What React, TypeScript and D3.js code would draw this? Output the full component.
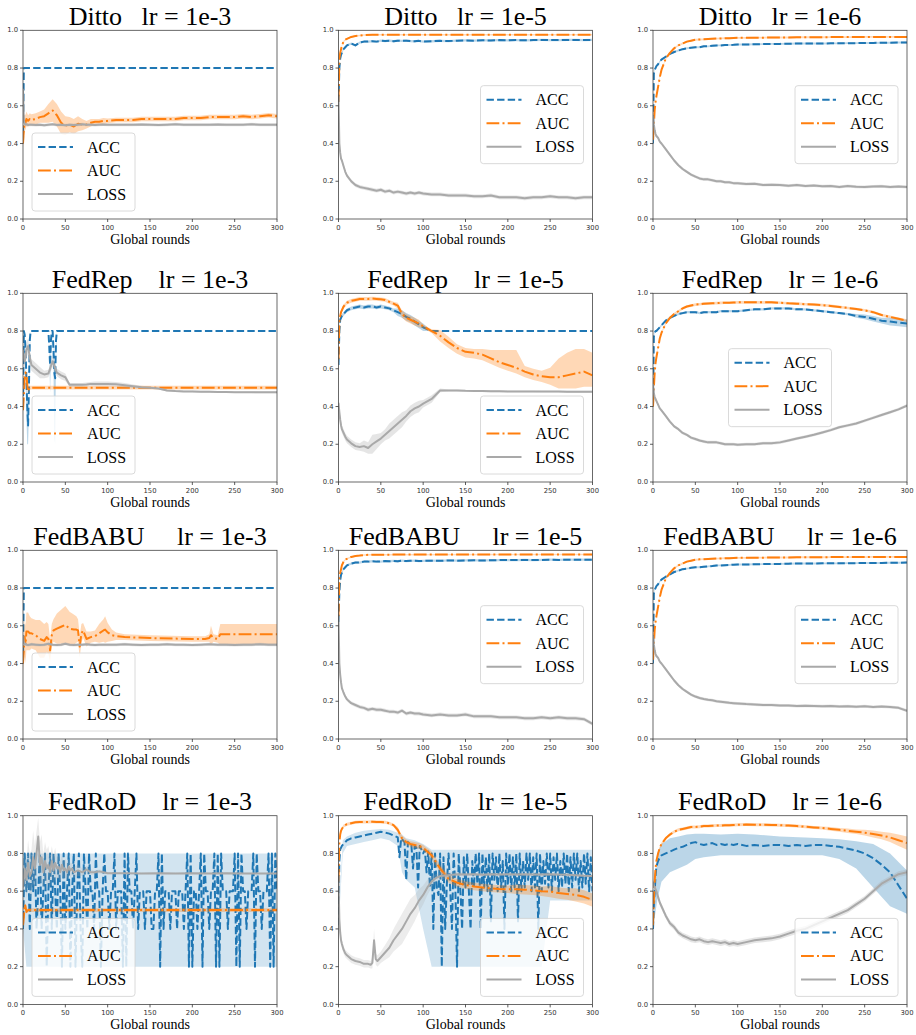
import React from 'react';
import * as d3 from 'd3';

// ---- shared axes data ----
const ROUNDS = [0, 1, 2, 3, 4, 6, 8,
  10, 15, 20, 25, 30, 35, 40, 45, 50, 55, 60, 65, 70, 75, 80, 85, 90, 95, 100,
  110, 120, 130, 140, 150, 160, 170, 180, 190, 200, 210, 220, 230, 240, 250, 260, 270, 280, 290, 300];
const EVEN_ROUNDS = d3.range(0, 301, 2);
const X_TICKS = [0, 50, 100, 150, 200, 250, 300];
const Y_TICKS = [0, 0.2, 0.4, 0.6, 0.8, 1.0];
const METHODS = ['Ditto', 'FedRep', 'FedBABU', 'FedRoD'];
const RATES = ['1e-3', '1e-5', '1e-6'];
const SERIES = ['ACC', 'AUC', 'LOSS'];

// ---- Ditto ----
const dittoE3AccX = [0, 1, 300];
const dittoE3Acc = [0.4, 0.8, 0.8];
const dittoE3Auc = [0.40, 0.47, 0.52, 0.51, 0.53, 0.52, 0.53,
  0.525, 0.53, 0.54, 0.545, 0.56, 0.575, 0.55, 0.51, 0.495, 0.50, 0.49, 0.505, 0.50, 0.50, 0.51, 0.515, 0.515, 0.52, 0.52,
  0.525, 0.525, 0.525, 0.53, 0.53, 0.53, 0.53, 0.53, 0.535, 0.535, 0.535, 0.54, 0.54, 0.54, 0.54, 0.545, 0.54, 0.545, 0.55, 0.545];
const dittoE3AucSd = [0.02, 0.04, 0.04, 0.04, 0.04, 0.03, 0.03,
  0.03, 0.03, 0.03, 0.035, 0.05, 0.06, 0.06, 0.06, 0.05, 0.04, 0.04, 0.04, 0.03, 0.02, 0.02, 0.015, 0.015, 0.015, 0.012,
  0.012, 0.012, 0.012, 0.012, 0.012, 0.012, 0.012, 0.012, 0.012, 0.012, 0.012, 0.012, 0.012, 0.012, 0.012, 0.012, 0.012, 0.012, 0.012, 0.012];
const dittoE3Loss = [0.69, 0.52, 0.505, 0.50, 0.502, 0.498, 0.50,
  0.50, 0.498, 0.50, 0.497, 0.50, 0.502, 0.498, 0.50, 0.497, 0.50, 0.498, 0.50, 0.502, 0.499, 0.50, 0.498, 0.50, 0.501, 0.50,
  0.50, 0.499, 0.50, 0.501, 0.50, 0.498, 0.50, 0.502, 0.50, 0.499, 0.50, 0.50, 0.501, 0.50, 0.499, 0.50, 0.502, 0.50, 0.499, 0.50];

const dittoE5Acc = [0.62, 0.80, 0.85, 0.87, 0.88, 0.90, 0.91,
  0.92, 0.93, 0.92, 0.935, 0.94, 0.94, 0.942, 0.94, 0.945, 0.943, 0.945, 0.942, 0.945, 0.944, 0.945, 0.943, 0.942, 0.944, 0.94,
  0.942, 0.944, 0.943, 0.945, 0.946, 0.945, 0.947, 0.946, 0.948, 0.947, 0.948, 0.947, 0.948, 0.949, 0.948, 0.948, 0.949, 0.949, 0.948, 0.949];
const dittoE5AucX = [0, 1, 2, 3, 4, 6, 8, 10, 15, 20, 25, 30, 40, 300];
const dittoE5Auc = [0.62, 0.85, 0.88, 0.90, 0.92, 0.94, 0.95, 0.955, 0.965, 0.97, 0.972, 0.975, 0.977, 0.977];
const dittoE5Loss = [0.65, 0.40, 0.35, 0.32, 0.31, 0.28, 0.25,
  0.23, 0.20, 0.18, 0.17, 0.165, 0.16, 0.155, 0.15, 0.155, 0.145, 0.15, 0.14, 0.145, 0.14, 0.135, 0.14, 0.135, 0.14, 0.135,
  0.13, 0.13, 0.125, 0.125, 0.125, 0.12, 0.12, 0.125, 0.115, 0.115, 0.115, 0.11, 0.115, 0.115, 0.12, 0.115, 0.115, 0.11, 0.115, 0.115];

const dittoE6Acc = [0.40, 0.77, 0.79, 0.80, 0.81, 0.82, 0.835,
  0.845, 0.86, 0.875, 0.885, 0.893, 0.90, 0.905, 0.908, 0.91, 0.91, 0.915, 0.915, 0.918, 0.92, 0.92, 0.922, 0.922, 0.923, 0.925,
  0.925, 0.926, 0.927, 0.928, 0.928, 0.929, 0.93, 0.93, 0.93, 0.93, 0.931, 0.931, 0.932, 0.932, 0.933, 0.933, 0.934, 0.934, 0.935, 0.935];
const dittoE6Auc = [0.42, 0.50, 0.58, 0.62, 0.65, 0.70, 0.75,
  0.79, 0.85, 0.88, 0.905, 0.92, 0.93, 0.94, 0.945, 0.95, 0.951, 0.952, 0.954, 0.955, 0.956, 0.957, 0.958, 0.958, 0.959, 0.96,
  0.96, 0.961, 0.961, 0.962, 0.962, 0.962, 0.963, 0.963, 0.963, 0.963, 0.964, 0.964, 0.964, 0.964, 0.965, 0.965, 0.965, 0.965, 0.965, 0.965];
const dittoE6Loss = [0.55, 0.50, 0.47, 0.45, 0.44, 0.43, 0.41,
  0.40, 0.37, 0.34, 0.31, 0.285, 0.265, 0.25, 0.235, 0.225, 0.215, 0.21, 0.21, 0.205, 0.20, 0.20, 0.195, 0.195, 0.19, 0.19,
  0.185, 0.187, 0.18, 0.182, 0.18, 0.176, 0.18, 0.175, 0.177, 0.174, 0.175, 0.17, 0.175, 0.171, 0.17, 0.172, 0.174, 0.17, 0.172, 0.17];

// ---- FedRep ----
const fedRepE3AccX = [0, 1, 2, 3, 4, 5, 6, 7, 8, 9, 10, 30, 31, 32, 33, 34, 35, 36, 37, 38, 39, 40, 300];
const fedRepE3Acc = [0.40, 0.80, 0.78, 0.70, 0.55, 0.40, 0.30, 0.50, 0.75, 0.80, 0.80, 0.80, 0.72, 0.62, 0.75, 0.80, 0.80, 0.70, 0.58, 0.55, 0.75, 0.80, 0.80];
const fedRepE3AccDn = [0, 0, 0.02, 0.1, 0.2, 0.2, 0.1, 0.15, 0.1, 0, 0, 0, 0.05, 0.15, 0.1, 0, 0, 0.1, 0.35, 0.35, 0.1, 0, 0];
const fedRepE3AucX = [0, 1, 2, 3, 4, 5, 6, 7, 8, 300];
const fedRepE3Auc = [0.38, 0.46, 0.56, 0.58, 0.57, 0.52, 0.48, 0.49, 0.50, 0.50];
const fedRepE3Loss = [0.70, 0.66, 0.64, 0.66, 0.70, 0.72, 0.66,
  0.62, 0.60, 0.58, 0.57, 0.575, 0.64, 0.58, 0.565, 0.555, 0.515, 0.515, 0.515, 0.515, 0.517, 0.52, 0.52, 0.52, 0.52, 0.52,
  0.518, 0.513, 0.507, 0.502, 0.50, 0.495, 0.485, 0.482, 0.48, 0.48, 0.478, 0.478, 0.477, 0.477, 0.476, 0.476, 0.476, 0.475, 0.475, 0.475];
const fedRepE3LossSd = [0.04, 0.04, 0.04, 0.04, 0.04, 0.04, 0.04,
  0.03, 0.03, 0.03, 0.02, 0.02, 0.03, 0.02, 0.02, 0.02, 0.01, 0.01, 0.01, 0.01, 0.01, 0.01, 0.012, 0.012, 0.012, 0.012,
  0.012, 0.012, 0.01, 0.008, 0.006, 0.005, 0.005, 0.005, 0.005, 0.005, 0.005, 0.005, 0.005, 0.005, 0.005, 0.005, 0.005, 0.005, 0.005, 0.005];

const fedRepE5AccX = [0, 1, 2, 3, 4, 6, 8, 10, 15, 20, 25, 30, 35, 40, 45, 50, 55, 60, 65, 70, 75, 80, 85, 90, 95, 100, 110, 300];
const fedRepE5Acc = [0.62, 0.80, 0.86, 0.87, 0.88, 0.89, 0.90,
  0.91, 0.92, 0.925, 0.93, 0.925, 0.93, 0.93, 0.925, 0.93, 0.925, 0.92, 0.91, 0.90, 0.89, 0.875, 0.865, 0.85, 0.835, 0.82,
  0.80, 0.80];
const fedRepE5AccSd = [0.01, 0.01, 0.01, 0.01, 0.01, 0.01, 0.01,
  0.01, 0.01, 0.01, 0.01, 0.01, 0.01, 0.01, 0.01, 0.01, 0.01, 0.01, 0.01, 0.02, 0.02, 0.02, 0.02, 0.02, 0.02, 0.02,
  0, 0];
const fedRepE5Auc = [0.65, 0.85, 0.88, 0.90, 0.91, 0.93, 0.94,
  0.95, 0.96, 0.965, 0.97, 0.97, 0.97, 0.972, 0.97, 0.968, 0.965, 0.955, 0.945, 0.935, 0.89, 0.87, 0.86, 0.85, 0.84, 0.825,
  0.80, 0.775, 0.74, 0.71, 0.69, 0.685, 0.675, 0.655, 0.635, 0.62, 0.605, 0.585, 0.57, 0.56, 0.555, 0.555, 0.565, 0.575, 0.585, 0.565];
const fedRepE5AucUp = [0.01, 0.01, 0.01, 0.01, 0.01, 0.01, 0.01,
  0.01, 0.01, 0.01, 0.01, 0.01, 0.01, 0.01, 0.01, 0.01, 0.01, 0.01, 0.01, 0.015, 0.02, 0.02, 0.02, 0.02, 0.02, 0.01,
  0.01, 0.03, 0.03, 0.02, 0.02, 0.02, 0.03, 0.045, 0.065, 0.08, 0.095, 0.03, 0.03, 0.03, 0.05, 0.10, 0.12, 0.13, 0.12, 0.12];
const fedRepE5AucDn = [0.01, 0.01, 0.01, 0.01, 0.01, 0.01, 0.01,
  0.01, 0.01, 0.01, 0.01, 0.01, 0.01, 0.01, 0.01, 0.01, 0.01, 0.01, 0.01, 0.015, 0.02, 0.02, 0.02, 0.02, 0.02, 0.01,
  0.01, 0.03, 0.03, 0.03, 0.03, 0.03, 0.03, 0.03, 0.03, 0.03, 0.03, 0.03, 0.03, 0.03, 0.04, 0.06, 0.07, 0.08, 0.08, 0.06];
const fedRepE5Loss = [0.42, 0.37, 0.33, 0.30, 0.28, 0.26, 0.24,
  0.225, 0.205, 0.19, 0.185, 0.19, 0.18, 0.20, 0.215, 0.23, 0.25, 0.27, 0.29, 0.31, 0.33, 0.35, 0.375, 0.39, 0.40, 0.415,
  0.44, 0.485, 0.485, 0.485, 0.483, 0.482, 0.482, 0.481, 0.481, 0.48, 0.48, 0.48, 0.48, 0.479, 0.479, 0.479, 0.478, 0.478, 0.478, 0.478];
const fedRepE5LossSd = [0.02, 0.02, 0.02, 0.02, 0.02, 0.02, 0.02,
  0.02, 0.02, 0.02, 0.02, 0.03, 0.03, 0.05, 0.04, 0.03, 0.03, 0.04, 0.04, 0.04, 0.04, 0.03, 0.03, 0.03, 0.03, 0.02,
  0.02, 0.01, 0.005, 0.005, 0.005, 0.005, 0.005, 0.005, 0.005, 0.005, 0.005, 0.005, 0.005, 0.005, 0.005, 0.005, 0.005, 0.005, 0.005, 0.005];

const fedRepE6Acc = [0.40, 0.77, 0.79, 0.80, 0.80, 0.81, 0.82,
  0.83, 0.855, 0.87, 0.88, 0.89, 0.895, 0.90, 0.90, 0.90, 0.895, 0.90, 0.90, 0.90, 0.90, 0.905, 0.905, 0.905, 0.905, 0.905,
  0.91, 0.915, 0.915, 0.92, 0.92, 0.92, 0.915, 0.915, 0.91, 0.905, 0.90, 0.895, 0.89, 0.88, 0.875, 0.865, 0.855, 0.85, 0.845, 0.84];
const fedRepE6AccSd = [0.005, 0.005, 0.005, 0.005, 0.005, 0.005, 0.005,
  0.006, 0.006, 0.006, 0.006, 0.006, 0.006, 0.006, 0.006, 0.006, 0.006, 0.006, 0.006, 0.006, 0.006, 0.006, 0.006, 0.006, 0.006, 0.006,
  0.006, 0.006, 0.006, 0.006, 0.006, 0.006, 0.006, 0.006, 0.006, 0.006, 0.006, 0.006, 0.006, 0.01, 0.012, 0.015, 0.015, 0.02, 0.02, 0.02];
const fedRepE6Auc = [0.40, 0.50, 0.58, 0.63, 0.66, 0.71, 0.76,
  0.79, 0.84, 0.87, 0.89, 0.905, 0.92, 0.93, 0.935, 0.94, 0.942, 0.945, 0.946, 0.947, 0.948, 0.949, 0.95, 0.95, 0.951, 0.952,
  0.952, 0.952, 0.952, 0.952, 0.95, 0.947, 0.945, 0.942, 0.94, 0.937, 0.933, 0.928, 0.922, 0.917, 0.91, 0.90, 0.885, 0.875, 0.865, 0.855];
const fedRepE6Loss = [0.52, 0.47, 0.45, 0.44, 0.43, 0.41, 0.39,
  0.38, 0.35, 0.32, 0.295, 0.28, 0.26, 0.25, 0.235, 0.228, 0.22, 0.215, 0.21, 0.21, 0.21, 0.205, 0.20, 0.20, 0.20, 0.197,
  0.20, 0.20, 0.205, 0.205, 0.21, 0.22, 0.23, 0.24, 0.25, 0.262, 0.275, 0.29, 0.30, 0.31, 0.325, 0.34, 0.355, 0.37, 0.385, 0.405];

// ---- FedBABU ----
const fedBabuE3AucX = [0, 1, 2, 3, 4, 6, 8, 10, 15, 20, 25, 28, 30, 32, 34, 36, 40, 45, 50, 55, 60, 63, 65, 67, 69, 71, 75,
  80, 85, 90, 95, 97, 100, 105, 110, 120, 150, 200, 215, 220, 222, 225, 230, 233, 240, 300];
const fedBabuE3Auc = [0.40, 0.48, 0.54, 0.50, 0.57, 0.57, 0.56, 0.56, 0.55, 0.53, 0.52, 0.54, 0.53, 0.47, 0.55, 0.575, 0.585,
  0.595, 0.605, 0.585, 0.58, 0.58, 0.575, 0.49, 0.56, 0.575, 0.53, 0.54, 0.545, 0.56, 0.575, 0.58, 0.565, 0.55, 0.545, 0.54, 0.535,
  0.53, 0.53, 0.535, 0.55, 0.535, 0.53, 0.555, 0.555, 0.555];
const fedBabuE3AucSd = [0.04, 0.06, 0.09, 0.10, 0.10, 0.10, 0.09, 0.08, 0.08, 0.10, 0.09, 0.08, 0.08, 0.06, 0.06, 0.06, 0.08,
  0.09, 0.10, 0.09, 0.08, 0.07, 0.06, 0.06, 0.05, 0.04, 0.04, 0.03, 0.03, 0.05, 0.06, 0.07, 0.05, 0.03, 0.02, 0.015, 0.015,
  0.015, 0.015, 0.02, 0.05, 0.02, 0.02, 0.055, 0.055, 0.055];
const fedBabuE3Loss = [0.55, 0.51, 0.50, 0.505, 0.50, 0.498, 0.50,
  0.502, 0.50, 0.498, 0.50, 0.505, 0.50, 0.498, 0.50, 0.505, 0.50, 0.498, 0.50, 0.50, 0.502, 0.50, 0.498, 0.50, 0.50, 0.50,
  0.50, 0.502, 0.50, 0.498, 0.50, 0.50, 0.502, 0.50, 0.50, 0.498, 0.50, 0.502, 0.50, 0.50, 0.498, 0.50, 0.50, 0.502, 0.50, 0.50];

const fedBabuE5Acc = [0.62, 0.78, 0.84, 0.87, 0.88, 0.90, 0.91,
  0.92, 0.93, 0.935, 0.935, 0.94, 0.94, 0.942, 0.94, 0.94, 0.943, 0.942, 0.944, 0.942, 0.945, 0.943, 0.944, 0.945, 0.943, 0.944,
  0.945, 0.944, 0.946, 0.945, 0.946, 0.947, 0.946, 0.947, 0.948, 0.948, 0.948, 0.949, 0.948, 0.949, 0.95, 0.949, 0.95, 0.95, 0.95, 0.95];
const fedBabuE5Auc = [0.65, 0.86, 0.88, 0.90, 0.92, 0.94, 0.95, 0.955, 0.965, 0.97, 0.972, 0.975, 0.977, 0.978];
const fedBabuE5Loss = [0.65, 0.40, 0.34, 0.30, 0.27, 0.245, 0.225,
  0.21, 0.19, 0.18, 0.17, 0.165, 0.155, 0.16, 0.155, 0.155, 0.15, 0.145, 0.145, 0.14, 0.15, 0.135, 0.14, 0.135, 0.135, 0.13,
  0.125, 0.13, 0.125, 0.125, 0.13, 0.12, 0.12, 0.12, 0.115, 0.115, 0.115, 0.11, 0.11, 0.115, 0.11, 0.115, 0.11, 0.11, 0.105, 0.08];

const fedBabuE6Acc = [0.40, 0.77, 0.79, 0.80, 0.81, 0.82, 0.835,
  0.845, 0.86, 0.873, 0.885, 0.892, 0.90, 0.903, 0.907, 0.91, 0.91, 0.913, 0.915, 0.917, 0.92, 0.92, 0.921, 0.922, 0.924, 0.925,
  0.925, 0.926, 0.927, 0.927, 0.928, 0.929, 0.93, 0.93, 0.93, 0.931, 0.931, 0.931, 0.932, 0.932, 0.933, 0.933, 0.933, 0.934, 0.934, 0.935];
const fedBabuE6Auc = [0.42, 0.50, 0.58, 0.62, 0.65, 0.70, 0.75,
  0.79, 0.85, 0.88, 0.905, 0.92, 0.93, 0.94, 0.945, 0.95, 0.952, 0.953, 0.954, 0.955, 0.956, 0.957, 0.958, 0.958, 0.959, 0.96,
  0.96, 0.961, 0.961, 0.962, 0.962, 0.962, 0.963, 0.963, 0.963, 0.963, 0.964, 0.964, 0.964, 0.964, 0.964, 0.965, 0.965, 0.965, 0.965, 0.965];
const fedBabuE6Loss = [0.55, 0.50, 0.47, 0.45, 0.44, 0.43, 0.41,
  0.40, 0.37, 0.34, 0.31, 0.285, 0.265, 0.25, 0.235, 0.225, 0.217, 0.212, 0.208, 0.205, 0.20, 0.198, 0.195, 0.192, 0.19, 0.188,
  0.185, 0.183, 0.18, 0.18, 0.177, 0.178, 0.175, 0.176, 0.175, 0.174, 0.175, 0.172, 0.174, 0.171, 0.173, 0.17, 0.172, 0.17, 0.165, 0.15];

// ---- FedRoD ----
const fedRodE3Acc = [
  0.4, 0.8, 0.6, 0.8, 0.4, 0.8, 0.6, 0.8, 0.4, 0.6,
  0.8, 0.4, 0.6, 0.8, 0.2, 0.6, 0.8, 0.4, 0.8, 0.6,
  0.4, 0.8, 0.6, 0.2, 0.8, 0.4, 0.6, 0.8, 0.2, 0.6,
  0.8, 0.2, 0.6, 0.8, 0.4, 0.2, 0.8, 0.6, 0.4, 0.8,
  0.6, 0.6, 0.4, 0.8, 0.6, 0.6, 0.2, 0.6, 0.8, 0.6,
  0.6, 0.4, 0.6, 0.6, 0.8, 0.4, 0.6, 0.6, 0.6, 0.2,
  0.8, 0.2, 0.8, 0.6, 0.6, 0.4, 0.6, 0.8, 0.4, 0.6,
  0.6, 0.6, 0.4, 0.6, 0.6, 0.6, 0.4, 0.4, 0.6, 0.6,
  0.8, 0.2, 0.8, 0.4, 0.6, 0.6, 0.6, 0.4, 0.6, 0.6,
  0.6, 0.4, 0.6, 0.6, 0.6, 0.4, 0.6, 0.8, 0.2, 0.8,
  0.2, 0.6, 0.6, 0.4, 0.6, 0.8, 0.2, 0.8, 0.6, 0.6,
  0.4, 0.6, 0.6, 0.8, 0.2, 0.8, 0.2, 0.8, 0.6, 0.6,
  0.6, 0.4, 0.6, 0.6, 0.6, 0.8, 0.2, 0.8, 0.2, 0.8,
  0.6, 0.6, 0.4, 0.6, 0.6, 0.6, 0.8, 0.2, 0.8, 0.6,
  0.6, 0.4, 0.6, 0.6, 0.6, 0.8, 0.2, 0.8, 0.2, 0.8,
  0.6];
const fedRodE3AccBandX = [0, 4, 300];
const fedRodE3AccLo = [0.4, 0.2, 0.2];
const fedRodE3AccHi = [0.8, 0.8, 0.8];
const fedRodE3AucX = [0, 1, 2, 3, 4, 6, 300];
const fedRodE3Auc = [0.42, 0.46, 0.53, 0.52, 0.49, 0.50, 0.50];
const fedRodE3LossX = [0, 2, 4, 6, 8, 10, 12, 14, 16, 18, 20, 22, 24, 26, 28, 30, 32, 34, 36, 38, 40, 42, 44, 46, 48, 50, 52, 54, 56, 58, 60,
  65, 70, 75, 80, 85, 90, 95, 100, 120, 140, 160, 180, 200, 220, 240, 260, 280, 300];
const fedRodE3Loss = [0.62, 0.72, 0.66, 0.75, 0.68, 0.70, 0.78, 0.72, 0.80, 0.89, 0.74, 0.78, 0.70, 0.76, 0.72, 0.74, 0.70, 0.76, 0.71, 0.75,
  0.72, 0.73, 0.70, 0.74, 0.71, 0.72, 0.70, 0.73, 0.71, 0.72, 0.70,
  0.71, 0.70, 0.715, 0.70, 0.70, 0.705, 0.70, 0.695,
  0.695, 0.694, 0.695, 0.694, 0.695, 0.694, 0.695, 0.694, 0.694, 0.694];
const fedRodE3LossSd = [0.05, 0.08, 0.10, 0.12, 0.12, 0.12, 0.14, 0.12, 0.12, 0.10, 0.12, 0.12, 0.10, 0.10, 0.10, 0.10, 0.08, 0.08, 0.08, 0.08,
  0.06, 0.06, 0.06, 0.05, 0.05, 0.05, 0.04, 0.04, 0.04, 0.03, 0.03,
  0.03, 0.02, 0.02, 0.015, 0.01, 0.01, 0.01, 0.005,
  0.004, 0.004, 0.004, 0.004, 0.004, 0.004, 0.004, 0.004, 0.004, 0.004];

const fedRodE5AccX = [0, 1, 2, 4, 6, 8, 10, 15, 20, 25, 30, 35, 40, 45, 50, 55, 60, 65].concat(d3.range(70, 301, 2));
const fedRodE5Acc = [0.42, 0.76, 0.82, 0.84, 0.85, 0.86, 0.87, 0.88, 0.885, 0.89, 0.895, 0.90, 0.905, 0.91, 0.915, 0.91, 0.905, 0.895,
  0.885, 0.78, 0.88, 0.87, 0.86, 0.66, 0.86, 0.85, 0.85, 0.72,
  0.84, 0.83, 0.62, 0.84, 0.82, 0.80, 0.82, 0.70, 0.81, 0.62,
  0.80, 0.40, 0.80, 0.62, 0.58, 0.80, 0.20, 0.78, 0.40, 0.64,
  0.80, 0.60, 0.40, 0.80, 0.62, 0.20, 0.80, 0.60, 0.40, 0.78,
  0.62, 0.80, 0.60, 0.40, 0.76, 0.62, 0.80, 0.64, 0.80, 0.40,
  0.80, 0.62, 0.78, 0.60, 0.80, 0.44, 0.80, 0.66, 0.78, 0.60,
  0.80, 0.62, 0.76, 0.40, 0.80, 0.64, 0.80, 0.60, 0.78, 0.62,
  0.80, 0.44, 0.80, 0.60, 0.76, 0.62, 0.80, 0.66, 0.80, 0.60,
  0.78, 0.62, 0.80, 0.40, 0.80, 0.60, 0.76, 0.64, 0.80, 0.62,
  0.80, 0.60, 0.78, 0.66, 0.80, 0.60, 0.76, 0.62, 0.80, 0.64,
  0.80, 0.60, 0.78, 0.62, 0.80, 0.66, 0.80, 0.60, 0.76, 0.62,
  0.80, 0.64, 0.80, 0.60, 0.78, 0.60];
const fedRodE5AccBandX = [0, 5, 10, 20, 30, 40, 50, 60, 70, 75, 80, 90, 100, 110, 120, 150, 200, 240, 250, 300];
const fedRodE5AccLo = [0.40, 0.80, 0.84, 0.85, 0.86, 0.87, 0.88, 0.87, 0.84, 0.70, 0.66, 0.62, 0.40, 0.20, 0.20, 0.20, 0.20, 0.20, 0.55, 0.55];
const fedRodE5AccHi = [0.45, 0.87, 0.89, 0.91, 0.92, 0.925, 0.93, 0.925, 0.91, 0.90, 0.88, 0.87, 0.85, 0.82, 0.82, 0.82, 0.82, 0.82, 0.82, 0.82];
const fedRodE5Auc = [0.65, 0.86, 0.90, 0.92, 0.93, 0.945, 0.95,
  0.955, 0.96, 0.965, 0.967, 0.967, 0.967, 0.968, 0.967, 0.967, 0.965, 0.96, 0.95, 0.925, 0.88, 0.86, 0.85, 0.845, 0.84, 0.83,
  0.79, 0.72, 0.665, 0.645, 0.633, 0.625, 0.62, 0.615, 0.612, 0.61, 0.61, 0.608, 0.605, 0.60, 0.598, 0.59, 0.585, 0.58, 0.57, 0.553];
const fedRodE5AucSd = [0.008, 0.008, 0.008, 0.008, 0.008, 0.008, 0.008,
  0.008, 0.008, 0.008, 0.008, 0.008, 0.008, 0.008, 0.008, 0.008, 0.008, 0.008, 0.008, 0.015, 0.015, 0.015, 0.015, 0.015, 0.015, 0.015,
  0.02, 0.02, 0.02, 0.02, 0.02, 0.02, 0.02, 0.02, 0.02, 0.02, 0.025, 0.025, 0.025, 0.025, 0.03, 0.03, 0.03, 0.035, 0.035, 0.035];
const fedRodE5LossX = [0, 1, 2, 3, 4, 6, 8, 10, 15, 20, 25, 30, 35, 38, 40, 42, 44, 46, 50, 55, 60, 65, 70, 75, 80, 85, 90, 95, 100, 105,
  110, 115, 120, 130, 140, 150, 160, 170, 180, 190, 200, 210, 220, 230, 240, 250, 260, 270, 280, 290, 300];
const fedRodE5Loss = [0.68, 0.45, 0.38, 0.34, 0.32, 0.29, 0.27, 0.26, 0.24, 0.23,
  0.225, 0.215, 0.215, 0.21, 0.22, 0.34, 0.24, 0.23, 0.25, 0.275,
  0.30, 0.34, 0.37, 0.40, 0.44, 0.48, 0.51, 0.55, 0.58, 0.62,
  0.65, 0.67, 0.68, 0.685, 0.69, 0.688, 0.69, 0.687, 0.69, 0.688,
  0.69, 0.689, 0.69, 0.688, 0.689, 0.69, 0.688, 0.687, 0.685, 0.682, 0.68];
const fedRodE5LossSd = [0.02, 0.03, 0.03, 0.02, 0.02, 0.02, 0.02, 0.02, 0.02, 0.02,
  0.02, 0.02, 0.02, 0.02, 0.03, 0.06, 0.03, 0.03, 0.03, 0.04,
  0.05, 0.06, 0.07, 0.08, 0.08, 0.08, 0.07, 0.06, 0.05, 0.04,
  0.03, 0.02, 0.02, 0.015, 0.01, 0.01, 0.008, 0.008, 0.008, 0.008,
  0.008, 0.008, 0.008, 0.008, 0.008, 0.008, 0.008, 0.008, 0.008, 0.008, 0.008];

const fedRodE6Acc = [0.40, 0.52, 0.60, 0.68, 0.73, 0.76, 0.78,
  0.79, 0.80, 0.81, 0.82, 0.83, 0.835, 0.845, 0.855, 0.86, 0.85, 0.845, 0.85, 0.855, 0.845, 0.85, 0.845, 0.85, 0.845, 0.85,
  0.84, 0.845, 0.84, 0.845, 0.845, 0.84, 0.845, 0.84, 0.845, 0.845, 0.84, 0.835, 0.825, 0.815, 0.80, 0.775, 0.74, 0.70, 0.63, 0.56];
const fedRodE6AccBandX = [0, 5, 10, 20, 30, 40, 50, 60, 80, 100, 120, 150, 180, 200, 220, 240, 260, 280, 300];
const fedRodE6AccLo = [0.40, 0.55, 0.65, 0.70, 0.72, 0.74, 0.77, 0.78, 0.79, 0.79, 0.79, 0.79, 0.79, 0.79, 0.77, 0.72, 0.62, 0.52, 0.48];
const fedRodE6AccHi = [0.40, 0.80, 0.85, 0.88, 0.89, 0.90, 0.905, 0.905, 0.90, 0.905, 0.90, 0.89, 0.885, 0.88, 0.875, 0.865, 0.85, 0.80, 0.71];
const fedRodE6Auc = [0.42, 0.55, 0.65, 0.72, 0.76, 0.80, 0.83,
  0.85, 0.88, 0.90, 0.915, 0.925, 0.93, 0.935, 0.94, 0.94, 0.942, 0.945, 0.946, 0.947, 0.948, 0.948, 0.949, 0.95, 0.951, 0.952,
  0.953, 0.952, 0.952, 0.951, 0.95, 0.948, 0.945, 0.942, 0.938, 0.935, 0.93, 0.925, 0.92, 0.915, 0.91, 0.903, 0.895, 0.885, 0.87, 0.855];
const fedRodE6AucSd = [0.008, 0.008, 0.008, 0.008, 0.008, 0.008, 0.008,
  0.008, 0.008, 0.008, 0.008, 0.008, 0.008, 0.008, 0.008, 0.008, 0.008, 0.008, 0.008, 0.008, 0.008, 0.008, 0.008, 0.008, 0.008, 0.008,
  0.008, 0.008, 0.008, 0.008, 0.008, 0.008, 0.008, 0.008, 0.008, 0.008, 0.01, 0.01, 0.012, 0.012, 0.015, 0.018, 0.02, 0.025, 0.03, 0.035];
const fedRodE6Loss = [0.65, 0.63, 0.62, 0.61, 0.60, 0.57, 0.54,
  0.52, 0.47, 0.43, 0.41, 0.38, 0.365, 0.355, 0.345, 0.34, 0.345, 0.335, 0.33, 0.335, 0.33, 0.325, 0.33, 0.32, 0.325, 0.32,
  0.33, 0.34, 0.345, 0.35, 0.36, 0.375, 0.39, 0.40, 0.42, 0.44, 0.46, 0.48, 0.50, 0.53, 0.56, 0.60, 0.64, 0.665, 0.69, 0.70];

type Spread = number | number[];
type Series = { x: number[]; y: number[]; sd?: Spread; dn?: Spread; up?: Spread; bx?: number[]; lo?: number[]; hi?: number[]; op?: number };
type PanelSpec = { legend: string; acc: Series; auc: Series; loss: Series };

// rows = methods, cols = learning rates
const PANELS: PanelSpec[][] = [
  [
    { legend: 'll', acc: { x: dittoE3AccX, y: dittoE3Acc }, auc: { x: ROUNDS, y: dittoE3Auc, sd: dittoE3AucSd }, loss: { x: ROUNDS, y: dittoE3Loss, sd: 0.008 } },
    { legend: 'cr', acc: { x: ROUNDS, y: dittoE5Acc, sd: 0.006 }, auc: { x: dittoE5AucX, y: dittoE5Auc, sd: 0.004 }, loss: { x: ROUNDS, y: dittoE5Loss, sd: 0.01 } },
    { legend: 'cr', acc: { x: ROUNDS, y: dittoE6Acc, sd: 0.005 }, auc: { x: ROUNDS, y: dittoE6Auc, sd: 0.005 }, loss: { x: ROUNDS, y: dittoE6Loss, sd: 0.008 } },
  ],
  [
    { legend: 'll', acc: { x: fedRepE3AccX, y: fedRepE3Acc, dn: fedRepE3AccDn, up: 0 }, auc: { x: fedRepE3AucX, y: fedRepE3Auc, sd: 0.01 }, loss: { x: ROUNDS, y: fedRepE3Loss, sd: fedRepE3LossSd } },
    { legend: 'lr', acc: { x: fedRepE5AccX, y: fedRepE5Acc, sd: fedRepE5AccSd }, auc: { x: ROUNDS, y: fedRepE5Auc, up: fedRepE5AucUp, dn: fedRepE5AucDn }, loss: { x: ROUNDS, y: fedRepE5Loss, sd: fedRepE5LossSd } },
    { legend: 'c', acc: { x: ROUNDS, y: fedRepE6Acc, sd: fedRepE6AccSd }, auc: { x: ROUNDS, y: fedRepE6Auc, sd: 0.007 }, loss: { x: ROUNDS, y: fedRepE6Loss, sd: 0.008 } },
  ],
  [
    { legend: 'll', acc: { x: dittoE3AccX, y: dittoE3Acc }, auc: { x: fedBabuE3AucX, y: fedBabuE3Auc, sd: fedBabuE3AucSd }, loss: { x: ROUNDS, y: fedBabuE3Loss, sd: 0.008 } },
    { legend: 'cr', acc: { x: ROUNDS, y: fedBabuE5Acc, sd: 0.006 }, auc: { x: dittoE5AucX, y: fedBabuE5Auc, sd: 0.004 }, loss: { x: ROUNDS, y: fedBabuE5Loss, sd: 0.01 } },
    { legend: 'cr', acc: { x: ROUNDS, y: fedBabuE6Acc, sd: 0.005 }, auc: { x: ROUNDS, y: fedBabuE6Auc, sd: 0.005 }, loss: { x: ROUNDS, y: fedBabuE6Loss, sd: 0.008 } },
  ],
  [
    { legend: 'll', acc: { x: EVEN_ROUNDS, y: fedRodE3Acc, bx: fedRodE3AccBandX, lo: fedRodE3AccLo, hi: fedRodE3AccHi, op: 0.2 }, auc: { x: fedRodE3AucX, y: fedRodE3Auc, sd: 0.01 }, loss: { x: fedRodE3LossX, y: fedRodE3Loss, sd: fedRodE3LossSd, op: 0.22 } },
    { legend: 'lr', acc: { x: fedRodE5AccX, y: fedRodE5Acc, bx: fedRodE5AccBandX, lo: fedRodE5AccLo, hi: fedRodE5AccHi, op: 0.2 }, auc: { x: ROUNDS, y: fedRodE5Auc, sd: fedRodE5AucSd }, loss: { x: fedRodE5LossX, y: fedRodE5Loss, sd: fedRodE5LossSd, op: 0.22 } },
    { legend: 'lr', acc: { x: ROUNDS, y: fedRodE6Acc, bx: fedRodE6AccBandX, lo: fedRodE6AccLo, hi: fedRodE6AccHi }, auc: { x: ROUNDS, y: fedRodE6Auc, sd: fedRodE6AucSd }, loss: { x: ROUNDS, y: fedRodE6Loss, sd: 0.015 } },
  ],
];

const TITLE_GAP = [3, 4, 5, 4];

const STYLE: Record<string, { color: string; dash?: string }> = {
  ACC: { color: '#1f77b4', dash: '7.4,3.2' },
  AUC: { color: '#ff7f0e', dash: '12.8,3.2,2,3.2' },
  LOSS: { color: '#a9a9a9' },
};

const COL_LEFT = [23, 338.5, 653];
const ROW_TOP = [30.3, 293.3, 550.3, 815.7];
const W = 254;
const H = 188.7;
const LEG_W = 103;
const LEG_H = 78;
const SERIF = '"Liberation Serif", "Times New Roman", serif';
const SANS = '"DejaVu Sans", sans-serif';

const pick = (v: Spread | undefined, i: number) =>
  v == null ? 0 : typeof v === 'number' ? v : (v[i] ?? v[v.length - 1]);

function bandPath(s: Series, x: d3.ScaleLinear<number, number>, y: d3.ScaleLinear<number, number>) {
  if (s.lo && s.hi) {
    const bx = s.bx || s.x;
    return d3.area<number>()
      .x((v) => x(v))
      .y0((_, i) => y(s.lo![i]))
      .y1((_, i) => y(s.hi![i]))(bx);
  }
  const dn = s.dn ?? s.sd;
  const up = s.up ?? s.sd;
  if (dn == null && up == null) return null;
  return d3.area<number>()
    .x((_, i) => x(s.x[i]))
    .y0((v, i) => y(v - pick(dn, i)))
    .y1((v, i) => y(v + pick(up, i)))(s.y);
}

function Panel({ spec, row, col }: { spec: PanelSpec; row: number; col: number }) {
  const left = COL_LEFT[col];
  const top = ROW_TOP[row];
  const x = d3.scaleLinear().domain([0, 300]).range([left, left + W]);
  const y = d3.scaleLinear().domain([0, 1]).range([top + H, top]);
  const clipId = `clip-${row}-${col}`;
  const list = [spec.acc, spec.auc, spec.loss];

  let lx = left + 9;
  let ly = top + H - 8 - LEG_H;
  if (spec.legend === 'cr') { lx = left + W - 9 - LEG_W; ly = top + H / 2 - LEG_H / 2; }
  if (spec.legend === 'lr') { lx = left + W - 9 - LEG_W; }
  if (spec.legend === 'c') { lx = left + W / 2 - LEG_W / 2; ly = top + H / 2 - LEG_H / 2; }

  const title = `${METHODS[row]}${' '.repeat(TITLE_GAP[row])}lr = ${RATES[col]}`;

  return (
    <g>
      <defs>
        <clipPath id={clipId}>
          <rect x={left} y={top} width={W} height={H} />
        </clipPath>
      </defs>
      <text x={left + W / 2} y={top - 5.5} textAnchor="middle" fontFamily={SERIF} fontSize={26}
        style={{ whiteSpace: 'pre' }}>{title}</text>
      <g clipPath={`url(#${clipId})`}>
        {list.map((s, k) => {
          const st = STYLE[SERIES[k]];
          const band = bandPath(s, x, y);
          const line = d3.line<number>()
            .defined((_, i) => s.x[i] != null)
            .x((_, i) => x(s.x[i]))
            .y((v) => y(v))(s.y);
          return (
            <g key={k}>
              {band && <path d={band} fill={st.color} fillOpacity={s.op ?? 0.3} stroke="none" />}
              <path d={line || ''} fill="none" stroke={st.color} strokeWidth={2}
                strokeDasharray={st.dash} strokeLinejoin="round" />
            </g>
          );
        })}
      </g>
      <rect x={left} y={top} width={W} height={H} fill="none" stroke="#444" strokeWidth={0.8} />
      {Y_TICKS.map((t) => (
        <g key={`y${t}`}>
          <line x1={left - 3} x2={left} y1={y(t)} y2={y(t)} stroke="#333" strokeWidth={0.8} />
          <text x={left - 5} y={y(t)} dy="0.32em" textAnchor="end" fontFamily={SANS} fontSize={6.8} fill="#333">
            {t.toFixed(1)}
          </text>
        </g>
      ))}
      {X_TICKS.map((t) => (
        <g key={`x${t}`}>
          <line x1={x(t)} x2={x(t)} y1={top + H} y2={top + H + 3} stroke="#333" strokeWidth={0.8} />
          <text x={x(t)} y={top + H + 10.5} textAnchor="middle" fontFamily={SANS} fontSize={6.8} fill="#333">{t}</text>
        </g>
      ))}
      <text x={left + W / 2} y={top + H + 25} textAnchor="middle" fontFamily={SERIF} fontSize={14}>Global rounds</text>
      <g>
        <rect x={lx} y={ly} width={LEG_W} height={LEG_H} rx={3} fill="#fff" fillOpacity={0.8} stroke="#d0d0d0" strokeWidth={0.8} />
        {SERIES.map((name, k) => {
          const cy = ly + 14 + k * 23.5;
          const st = STYLE[name];
          return (
            <g key={name}>
              <line x1={lx + 6} x2={lx + 41} y1={cy} y2={cy} stroke={st.color} strokeWidth={2} strokeDasharray={st.dash} />
              <text x={lx + 55} y={cy + 5.5} fontFamily={SERIF} fontSize={16}>{name}</text>
            </g>
          );
        })}
      </g>
    </g>
  );
}

export default function App() {
  return (
    <svg width={916} height={1035} style={{ position: 'absolute', left: 0, top: 0, background: '#fff' }}>
      <rect width={916} height={1035} fill="#fff" />
      {PANELS.map((rowSpecs, r) => rowSpecs.map((spec, c) => (
        <Panel key={`${r}-${c}`} spec={spec} row={r} col={c} />
      )))}
    </svg>
  );
}
